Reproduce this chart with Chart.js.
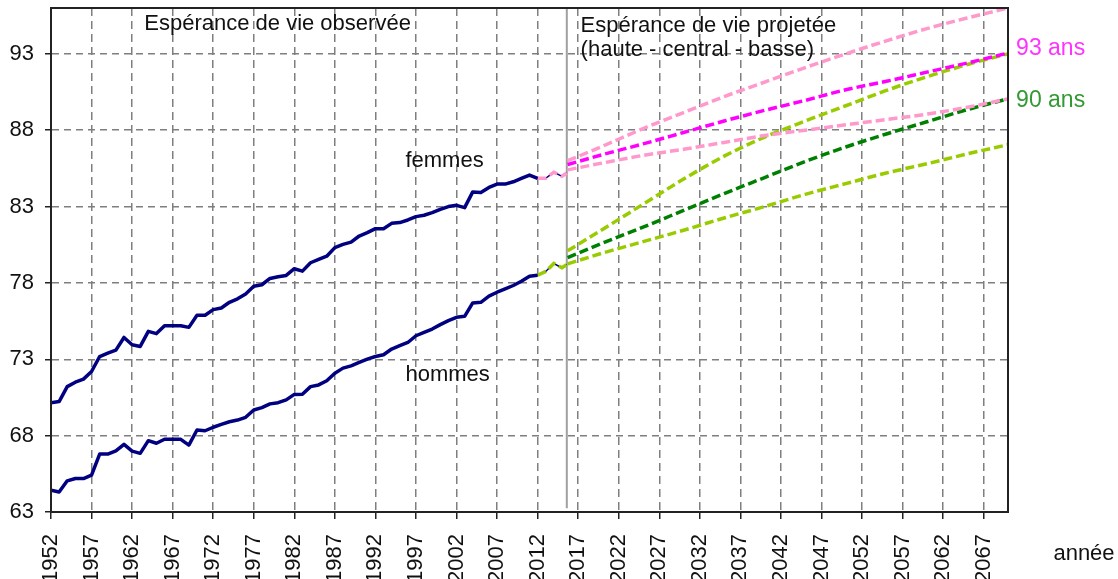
<!DOCTYPE html>
<html>
<head>
<meta charset="utf-8">
<script src="https://cdn.jsdelivr.net/npm/chart.js@4.4.1/dist/chart.umd.min.js"></script>
<style>
  html, body { margin: 0; padding: 0; background: #fff; }
</style>
</head>
<body>
<canvas id="chart" width="1118" height="579"></canvas>
<script>
// observed years 1952-2012
const obsYears = [1952,1953,1954,1955,1956,1957,1958,1959,1960,1961,1962,1963,1964,1965,1966,1967,1968,1969,1970,1971,
  1972,1973,1974,1975,1976,1977,1978,1979,1980,1981,1982,1983,1984,1985,1986,1987,1988,1989,1990,1991,
  1992,1993,1994,1995,1996,1997,1998,1999,2000,2001,2002,2003,2004,2005,2006,2007,2008,2009,2010,2011,2012];

const femmesObs = [70.16,70.23,71.21,71.5,71.7,72.2,73.18,73.4,73.6,74.43,73.95,73.84,74.83,74.68,75.2,75.2,75.2,75.09,75.88,75.88,
  76.25,76.36,76.73,76.96,77.28,77.78,77.88,78.29,78.4,78.49,78.93,78.77,79.32,79.54,79.75,80.31,80.52,80.67,81.07,81.29,
  81.55,81.55,81.9,81.95,82.12,82.34,82.43,82.6,82.82,83.0,83.08,82.93,83.96,83.92,84.25,84.47,84.47,84.62,84.84,85.06,84.85];

const hommesObs = [64.43,64.31,65.04,65.19,65.19,65.41,66.79,66.79,67.0,67.43,66.99,66.84,67.67,67.5,67.76,67.76,67.76,67.38,68.37,68.32,
  68.55,68.74,68.91,69.02,69.2,69.68,69.83,70.08,70.16,70.34,70.7,70.71,71.21,71.32,71.59,72.09,72.42,72.57,72.79,73.01,
  73.18,73.3,73.67,73.89,74.1,74.54,74.76,74.98,75.27,75.53,75.75,75.81,76.69,76.73,77.13,77.39,77.61,77.83,78.11,78.44,78.5];

// provisional estimates 2012-2015
const estYears = [2012, 2013, 2014, 2015, 2015.6];
const femmesEst = [84.85, 84.85, 85.25, 84.98, 85.2];
const hommesEst = [78.5, 78.75, 79.27, 78.99, 79.2];

// projections (haute - central - basse)
const projYears = [2015.7, 2020, 2025, 2030, 2035, 2040, 2045, 2050, 2055, 2060, 2065, 2070];
const femmesHaute   = [86.0, 86.95, 88.1, 89.15, 90.2, 91.15, 92.1, 93.0, 93.85, 94.65, 95.35, 96.0];
const femmesCentral = [85.75, 86.4, 87.1, 87.85, 88.6, 89.3, 89.95, 90.65, 91.2, 91.8, 92.4, 93.05];
const femmesBasse   = [85.4, 85.85, 86.35, 86.75, 87.2, 87.65, 88.0, 88.35, 88.7, 89.05, 89.5, 90.05];
const hommesHaute   = [80.1, 81.5, 83.15, 84.8, 86.3, 87.55, 88.6, 89.6, 90.6, 91.5, 92.3, 93.0];
const hommesCentral = [79.65, 80.6, 81.65, 82.75, 83.85, 84.9, 85.95, 86.9, 87.75, 88.55, 89.35, 90.05];
const hommesBasse   = [79.25, 79.95, 80.7, 81.45, 82.25, 83.0, 83.8, 84.5, 85.2, 85.8, 86.45, 87.05];

const xTicks = [1952,1957,1962,1967,1972,1977,1982,1987,1992,1997,2002,2007,2012,2017,2022,2027,2032,2037,2042,2047,2052,2057,2062,2067];
const yTicks = [63, 68, 73, 78, 83, 88, 93];

const projStart = 2015.6;

const FONT = '"Liberation Sans", Arial, sans-serif';

function pts(xs, ys) {
  return xs.map((x, i) => ({ x: x, y: ys[i] }));
}

const navy = '#000080';
const pinkLight = '#ff99cc';
const magenta = '#ff00ff';
const greenLight = '#99cc00';
const greenDark = '#008000';
const dash = [9, 4];

function projLine(data, color, order) {
  return {
    data: data,
    borderColor: color,
    borderWidth: 3.5,
    borderDash: dash,
    borderCapStyle: 'butt',
    cubicInterpolationMode: 'monotone',
    order: order
  };
}

const texts = [
  { text: 'Espérance de vie observée', x: 1963.5, y: 94.55, color: '#111', size: 22 },
  { text: 'Espérance de vie projetée', x: 2017.3, y: 94.45, color: '#111', size: 22 },
  { text: '(haute - central - basse)', x: 2017.3, y: 92.85, color: '#111', size: 22 },
  { text: 'femmes', x: 1995.7, y: 85.6, color: '#111', size: 22 },
  { text: 'hommes', x: 1995.7, y: 71.55, color: '#111', size: 22 },
  { text: '93 ans', x: 2071.0, y: 92.9, color: '#ff33ff', size: 23 },
  { text: '90 ans', x: 2071.0, y: 89.5, color: '#339933', size: 23 },
  { text: 'année', x: 2075.6, y: 59.83, color: '#111', size: 22 }
];

const overlay = {
  id: 'overlay',
  beforeDatasetsDraw(chart) {
    const { ctx, scales: { x, y } } = chart;
    const px = x.getPixelForValue(projStart);
    ctx.save();
    ctx.strokeStyle = '#a0a0a0';
    ctx.lineWidth = 2;
    ctx.beginPath();
    ctx.moveTo(px, chart.chartArea.top);
    ctx.lineTo(px, y.getPixelForValue(63.25));
    ctx.stroke();
    ctx.restore();
  },
  afterDraw(chart) {
    const { ctx, chartArea: a, scales: { x, y } } = chart;
    ctx.save();
    ctx.strokeStyle = '#222';
    ctx.lineWidth = 2;
    ctx.strokeRect(a.left, a.top, a.right - a.left, a.bottom - a.top);
    ctx.textAlign = 'left';
    ctx.textBaseline = 'alphabetic';
    texts.forEach(t => {
      ctx.font = t.size + 'px ' + FONT;
      ctx.fillStyle = t.color;
      ctx.fillText(t.text, x.getPixelForValue(t.x), y.getPixelForValue(t.y));
    });
    ctx.restore();
  }
};

new Chart(document.getElementById('chart'), {
  type: 'line',
  data: {
    datasets: [
      { data: pts(obsYears, femmesObs), borderColor: navy, borderWidth: 3.5, borderJoinStyle: 'round', order: 1 },
      { data: pts(obsYears, hommesObs), borderColor: navy, borderWidth: 3.5, borderJoinStyle: 'round', order: 1 },
      { data: pts(estYears, femmesEst), borderColor: pinkLight, borderWidth: 3.5, borderDash: dash, order: 2 },
      { data: pts(estYears, femmesEst), borderColor: navy, borderWidth: 1.5, order: 3 },
      { data: pts(estYears, hommesEst), borderColor: greenLight, borderWidth: 3.5, borderDash: dash, order: 2 },
      { data: pts(estYears, hommesEst), borderColor: navy, borderWidth: 1.5, order: 3 },
      projLine(pts(projYears, femmesCentral), magenta, 4),
      projLine(pts(projYears, femmesHaute), pinkLight, 5),
      projLine(pts(projYears, femmesBasse), pinkLight, 5),
      projLine(pts(projYears, hommesCentral), greenDark, 6),
      projLine(pts(projYears, hommesHaute), greenLight, 7),
      projLine(pts(projYears, hommesBasse), greenLight, 7)
    ]
  },
  options: {
    responsive: false,
    animation: false,
    devicePixelRatio: 1,
    elements: { point: { radius: 0 }, line: { tension: 0 } },
    layout: { padding: { top: 8, right: 110, left: 0, bottom: 0 } },
    plugins: { legend: { display: false }, tooltip: { enabled: false } },
    scales: {
      x: {
        type: 'linear',
        min: 1952,
        max: 2070,
        afterBuildTicks: (scale) => { scale.ticks = xTicks.map(v => ({ value: v })); },
        afterFit: (scale) => {
          scale.height = 67;
          scale.paddingLeft = 0;
          scale.paddingRight = 0;
        },
        ticks: {
          autoSkip: false,
          minRotation: 90,
          maxRotation: 90,
          padding: 15,
          color: '#111',
          font: { family: FONT, size: 22 },
          callback: (v) => String(v)
        },
        grid: {
          color: '#7f7f7f',
          lineWidth: 1.5,
          tickLength: 7,
          tickColor: '#222',
          tickWidth: 1.5
        },
        border: { display: true, color: '#111', width: 2, dash: [8, 5] }
      },
      y: {
        min: 63,
        max: 96,
        afterBuildTicks: (scale) => { scale.ticks = yTicks.map(v => ({ value: v })); },
        afterFit: (scale) => {
          scale.width = 51;
          scale.paddingTop = 0;
          scale.paddingBottom = 0;
        },
        ticks: {
          padding: 11,
          color: '#111',
          font: { family: FONT, size: 22 },
          callback: (v) => String(v)
        },
        grid: {
          color: '#7f7f7f',
          lineWidth: 1.5,
          tickLength: 6,
          tickColor: '#222',
          tickWidth: 1.5
        },
        border: { display: true, color: '#111', width: 2, dash: [7, 5] }
      }
    }
  },
  plugins: [overlay]
});
</script>
</body>
</html>
